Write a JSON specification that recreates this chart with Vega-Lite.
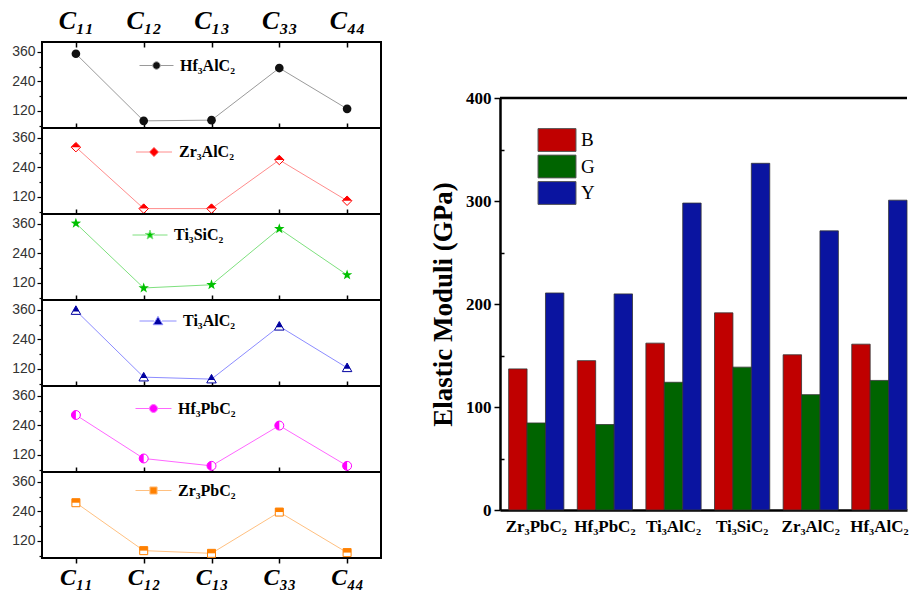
{
  "$schema": "https://vega.github.io/schema/vega-lite/v6.json",
  "background": "white",
  "padding": {"left": 10, "top": 6, "right": 0, "bottom": 0},
  "config": {
    "view": {"stroke": null},
    "axis": {"grid": false, "labelColor": "black", "tickColor": "black", "domainColor": "black"}
  },
  "datasets": {
    "constants": [
      {"material": "Hf₃AlC₂", "constant": "C₁₁", "value": 352},
      {"material": "Hf₃AlC₂", "constant": "C₁₂", "value": 79},
      {"material": "Hf₃AlC₂", "constant": "C₁₃", "value": 82},
      {"material": "Hf₃AlC₂", "constant": "C₃₃", "value": 294},
      {"material": "Hf₃AlC₂", "constant": "C₄₄", "value": 128},
      {"material": "Zr₃AlC₂", "constant": "C₁₁", "value": 322},
      {"material": "Zr₃AlC₂", "constant": "C₁₂", "value": 72},
      {"material": "Zr₃AlC₂", "constant": "C₁₃", "value": 72},
      {"material": "Zr₃AlC₂", "constant": "C₃₃", "value": 270},
      {"material": "Zr₃AlC₂", "constant": "C₄₄", "value": 104},
      {"material": "Ti₃SiC₂", "constant": "C₁₁", "value": 362},
      {"material": "Ti₃SiC₂", "constant": "C₁₂", "value": 99},
      {"material": "Ti₃SiC₂", "constant": "C₁₃", "value": 112},
      {"material": "Ti₃SiC₂", "constant": "C₃₃", "value": 340},
      {"material": "Ti₃SiC₂", "constant": "C₄₄", "value": 152},
      {"material": "Ti₃AlC₂", "constant": "C₁₁", "value": 357},
      {"material": "Ti₃AlC₂", "constant": "C₁₂", "value": 86},
      {"material": "Ti₃AlC₂", "constant": "C₁₃", "value": 78},
      {"material": "Ti₃AlC₂", "constant": "C₃₃", "value": 293},
      {"material": "Ti₃AlC₂", "constant": "C₄₄", "value": 124},
      {"material": "Hf₃PbC₂", "constant": "C₁₁", "value": 282},
      {"material": "Hf₃PbC₂", "constant": "C₁₂", "value": 105},
      {"material": "Hf₃PbC₂", "constant": "C₁₃", "value": 75},
      {"material": "Hf₃PbC₂", "constant": "C₃₃", "value": 239},
      {"material": "Hf₃PbC₂", "constant": "C₄₄", "value": 75},
      {"material": "Zr₃PbC₂", "constant": "C₁₁", "value": 275},
      {"material": "Zr₃PbC₂", "constant": "C₁₂", "value": 80},
      {"material": "Zr₃PbC₂", "constant": "C₁₃", "value": 69},
      {"material": "Zr₃PbC₂", "constant": "C₃₃", "value": 237},
      {"material": "Zr₃PbC₂", "constant": "C₄₄", "value": 72}
    ],
    "moduli": [
      {"material": "Zr₃PbC₂", "modulus": "B", "value": 137},
      {"material": "Zr₃PbC₂", "modulus": "G", "value": 84.5},
      {"material": "Zr₃PbC₂", "modulus": "Y", "value": 210.7},
      {"material": "Hf₃PbC₂", "modulus": "B", "value": 145},
      {"material": "Hf₃PbC₂", "modulus": "G", "value": 83},
      {"material": "Hf₃PbC₂", "modulus": "Y", "value": 209.8},
      {"material": "Ti₃AlC₂", "modulus": "B", "value": 162},
      {"material": "Ti₃AlC₂", "modulus": "G", "value": 124},
      {"material": "Ti₃AlC₂", "modulus": "Y", "value": 298},
      {"material": "Ti₃SiC₂", "modulus": "B", "value": 191.4},
      {"material": "Ti₃SiC₂", "modulus": "G", "value": 138.7},
      {"material": "Ti₃SiC₂", "modulus": "Y", "value": 336.6},
      {"material": "Zr₃AlC₂", "modulus": "B", "value": 150.7},
      {"material": "Zr₃AlC₂", "modulus": "G", "value": 112},
      {"material": "Zr₃AlC₂", "modulus": "Y", "value": 271},
      {"material": "Hf₃AlC₂", "modulus": "B", "value": 161},
      {"material": "Hf₃AlC₂", "modulus": "G", "value": 125.8},
      {"material": "Hf₃AlC₂", "modulus": "Y", "value": 300.8}
    ]
  },
  "spacing": 47,
  "resolve": {"scale": {"color": "independent"}},
  "hconcat": [
    {
      "vconcat": [
        {
          "width": 339, "height": 86,
          "view": {"stroke": "black", "strokeWidth": 2},
          "data": {"name": "constants"},
          "transform": [{"filter": "datum.material === 'Hf₃AlC₂'"}],
          "encoding": {
            "y": {"field": "value", "type": "quantitative", "scale": {"domain": [50, 400], "nice": false, "zero": false},
              "axis": {"values": [60, 120, 180, 240, 300, 360], "labelExpr": "datum.value % 120 === 0 ? datum.label : ''", "title": null, "labelFont": "Liberation Sans", "labelFontSize": 14, "labelColor": "#333", "tickSize": {"condition": {"test": "datum.value % 120 === 0", "value": 5}, "value": 3}, "tickWidth": 1.2, "labelPadding": 2, "domain": false}}
          },
          "layer": [
            {
              "mark": {"type": "line", "strokeWidth": 1},
              "encoding": {
                "x": {"field": "constant", "type": "ordinal", "sort": null, "scale": {"padding": 0.5},
                  "axis": {"orient": "top", "title": null, "labelFont": "Liberation Serif", "labelFontSize": 26, "labelFontWeight": "bold", "labelFontStyle": "italic", "labelAngle": 0, "tickSize": -5, "tickWidth": 1.5, "labelPadding": 14, "domain": false}},
                "color": {"datum": "Hf₃AlC₂", "type": "nominal", "scale": {"domain": ["Hf₃AlC₂"], "range": ["#9a9a9a"]},
                  "legend": {"orient": "none", "legendX": 97, "legendY": 6, "title": null, "padding": 0, "symbolType": "M-1,0H-0.22M0.22,0H1M0.22,0A0.22,0.22 0 1 1 -0.22,0A0.22,0.22 0 1 1 0.22,0Z", "symbolSize": 1156, "labelFont": "Liberation Serif", "labelFontWeight": "bold", "labelFontSize": 16, "labelColor": "black", "labelOffset": 6,
                    "encode": {"symbols": {"update": {"fill": {"value": "#111"}, "fillOpacity": {"value": 1}, "stroke": {"value": "#333"}, "strokeWidth": {"value": 1}}}}}}
              }
            },
            {
              "mark": {"type": "point", "shape": "circle", "filled": true, "color": "#111", "size": 75, "opacity": 1},
              "encoding": {
                "x": {"field": "constant", "type": "ordinal", "sort": null,
                  "axis": {"orient": "bottom", "title": null, "labels": false, "tickSize": -5, "tickWidth": 1.5, "domain": false}}
              }
            }
          ],
          "resolve": {"axis": {"x": "independent"}}
        },
        {
          "width": 339, "height": 86,
          "view": {"stroke": "black", "strokeWidth": 2},
          "data": {"name": "constants"},
          "transform": [{"filter": "datum.material === 'Zr₃AlC₂'"}],
          "encoding": {
            "x": {"field": "constant", "type": "ordinal", "sort": null, "scale": {"padding": 0.5},
              "axis": {"orient": "bottom", "title": null, "labels": false, "tickSize": -5, "tickWidth": 1.5, "domain": false}},
            "y": {"field": "value", "type": "quantitative", "scale": {"domain": [50, 400], "nice": false, "zero": false},
              "axis": {"values": [60, 120, 180, 240, 300, 360], "labelExpr": "datum.value % 120 === 0 ? datum.label : ''", "title": null, "labelFont": "Liberation Sans", "labelFontSize": 14, "labelColor": "#333", "tickSize": {"condition": {"test": "datum.value % 120 === 0", "value": 5}, "value": 3}, "tickWidth": 1.2, "labelPadding": 2, "domain": false}}
          },
          "layer": [
            {
              "mark": {"type": "line", "strokeWidth": 1},
              "encoding": {
                "color": {"datum": "Zr₃AlC₂", "type": "nominal", "scale": {"domain": ["Zr₃AlC₂"], "range": ["#ff8c8c"]},
                  "legend": {"orient": "none", "legendX": 93, "legendY": 5, "title": null, "padding": 0, "symbolType": "M-1,0H-0.26M0.26,0H1M0,-0.26L0.26,0L0,0.26L-0.26,0Z", "symbolSize": 1300, "labelFont": "Liberation Serif", "labelFontWeight": "bold", "labelFontSize": 16, "labelColor": "black", "labelOffset": 6,
                    "encode": {"symbols": {"update": {"fill": {"value": "#ff0000"}, "fillOpacity": {"value": 1}, "stroke": {"value": "#ff6060"}, "strokeWidth": {"value": 1}}}}}}
              }
            },
            {"mark": {"type": "point", "shape": "M0,-1L1,0L0,1L-1,0Z", "filled": true, "fill": "white", "stroke": "#ff0000", "strokeWidth": 1, "size": 90, "opacity": 1}},
            {"mark": {"type": "point", "shape": "M-1,0L0,-1L1,0Z", "filled": true, "color": "#ff0000", "size": 90, "opacity": 1}}
          ]
        },
        {
          "width": 339, "height": 86,
          "view": {"stroke": "black", "strokeWidth": 2},
          "data": {"name": "constants"},
          "transform": [{"filter": "datum.material === 'Ti₃SiC₂'"}],
          "encoding": {
            "x": {"field": "constant", "type": "ordinal", "sort": null, "scale": {"padding": 0.5},
              "axis": {"orient": "bottom", "title": null, "labels": false, "tickSize": -5, "tickWidth": 1.5, "domain": false}},
            "y": {"field": "value", "type": "quantitative", "scale": {"domain": [50, 400], "nice": false, "zero": false},
              "axis": {"values": [60, 120, 180, 240, 300, 360], "labelExpr": "datum.value % 120 === 0 ? datum.label : ''", "title": null, "labelFont": "Liberation Sans", "labelFontSize": 14, "labelColor": "#333", "tickSize": {"condition": {"test": "datum.value % 120 === 0", "value": 5}, "value": 3}, "tickWidth": 1.2, "labelPadding": 2, "domain": false}}
          },
          "layer": [
            {
              "mark": {"type": "line", "strokeWidth": 1},
              "encoding": {
                "color": {"datum": "Ti₃SiC₂", "type": "nominal", "scale": {"domain": ["Ti₃SiC₂"], "range": ["#7ee07e"]},
                  "legend": {"orient": "none", "legendX": 90, "legendY": 3, "title": null, "padding": 0, "symbolType": "M-1,0H-0.2M0.2,0H1M0,-0.28L0.066,-0.091L0.266,-0.087L0.106,0.035L0.165,0.227L0,0.112L-0.165,0.227L-0.106,0.035L-0.266,-0.087L-0.066,-0.091Z", "symbolSize": 1225, "labelFont": "Liberation Serif", "labelFontWeight": "bold", "labelFontSize": 16, "labelColor": "black", "labelOffset": 6,
                    "encode": {"symbols": {"update": {"fill": {"value": "#00c800"}, "fillOpacity": {"value": 1}, "stroke": {"value": "#40d040"}, "strokeWidth": {"value": 1}}}}}}
              }
            },
            {"mark": {"type": "point", "shape": "M0,-1L0.235,-0.324L0.951,-0.309L0.38,0.124L0.588,0.809L0,0.4L-0.588,0.809L-0.38,0.124L-0.951,-0.309L-0.235,-0.324Z", "filled": true, "color": "#00c000", "size": 120, "opacity": 1}}
          ]
        },
        {
          "width": 339, "height": 86,
          "view": {"stroke": "black", "strokeWidth": 2},
          "data": {"name": "constants"},
          "transform": [{"filter": "datum.material === 'Ti₃AlC₂'"}],
          "encoding": {
            "x": {"field": "constant", "type": "ordinal", "sort": null, "scale": {"padding": 0.5},
              "axis": {"orient": "bottom", "title": null, "labels": false, "tickSize": -5, "tickWidth": 1.5, "domain": false}},
            "y": {"field": "value", "type": "quantitative", "scale": {"domain": [50, 400], "nice": false, "zero": false},
              "axis": {"values": [60, 120, 180, 240, 300, 360], "labelExpr": "datum.value % 120 === 0 ? datum.label : ''", "title": null, "labelFont": "Liberation Sans", "labelFontSize": 14, "labelColor": "#333", "tickSize": {"condition": {"test": "datum.value % 120 === 0", "value": 5}, "value": 3}, "tickWidth": 1.2, "labelPadding": 2, "domain": false}}
          },
          "layer": [
            {
              "mark": {"type": "line", "strokeWidth": 1},
              "encoding": {
                "color": {"datum": "Ti₃AlC₂", "type": "nominal", "scale": {"domain": ["Ti₃AlC₂"], "range": ["#8c8cff"]},
                  "legend": {"orient": "none", "legendX": 97, "legendY": 2, "title": null, "padding": 0, "symbolType": "M-1,0H-0.22M0.22,0H1M0,-0.25L0.26,0.2L-0.26,0.2Z", "symbolSize": 1369, "labelFont": "Liberation Serif", "labelFontWeight": "bold", "labelFontSize": 16, "labelColor": "black", "labelOffset": 6,
                    "encode": {"symbols": {"update": {"fill": {"value": "#0000a0"}, "fillOpacity": {"value": 1}, "stroke": {"value": "#5050ff"}, "strokeWidth": {"value": 1}}}}}}
              }
            },
            {"mark": {"type": "point", "shape": "M0,-1L1,0.8L-1,0.8Z", "filled": true, "fill": "white", "stroke": "#0000a0", "strokeWidth": 1, "size": 90, "opacity": 1}},
            {"mark": {"type": "point", "shape": "M0,-1L0.667,0.2L-0.667,0.2Z", "filled": true, "color": "#0000a0", "size": 90, "opacity": 1}}
          ]
        },
        {
          "width": 339, "height": 86,
          "view": {"stroke": "black", "strokeWidth": 2},
          "data": {"name": "constants"},
          "transform": [{"filter": "datum.material === 'Hf₃PbC₂'"}],
          "encoding": {
            "x": {"field": "constant", "type": "ordinal", "sort": null, "scale": {"padding": 0.5},
              "axis": {"orient": "bottom", "title": null, "labels": false, "tickSize": -5, "tickWidth": 1.5, "domain": false}},
            "y": {"field": "value", "type": "quantitative", "scale": {"domain": [50, 400], "nice": false, "zero": false},
              "axis": {"values": [60, 120, 180, 240, 300, 360], "labelExpr": "datum.value % 120 === 0 ? datum.label : ''", "title": null, "labelFont": "Liberation Sans", "labelFontSize": 14, "labelColor": "#333", "tickSize": {"condition": {"test": "datum.value % 120 === 0", "value": 5}, "value": 3}, "tickWidth": 1.2, "labelPadding": 2, "domain": false}}
          },
          "layer": [
            {
              "mark": {"type": "line", "strokeWidth": 1},
              "encoding": {
                "color": {"datum": "Hf₃PbC₂", "type": "nominal", "scale": {"domain": ["Hf₃PbC₂"], "range": ["#ff66ff"]},
                  "legend": {"orient": "none", "legendX": 93, "legendY": 4, "title": null, "padding": 0, "symbolType": "M-1,0H-0.22M0.22,0H1M0.22,0A0.22,0.22 0 1 1 -0.22,0A0.22,0.22 0 1 1 0.22,0Z", "symbolSize": 1296, "labelFont": "Liberation Serif", "labelFontWeight": "bold", "labelFontSize": 16, "labelColor": "black", "labelOffset": 6,
                    "encode": {"symbols": {"update": {"fill": {"value": "#ff00ff"}, "fillOpacity": {"value": 1}, "stroke": {"value": "#ff40ff"}, "strokeWidth": {"value": 1}}}}}}
              }
            },
            {"mark": {"type": "point", "shape": "circle", "filled": true, "fill": "white", "stroke": "#ff00ff", "strokeWidth": 1, "size": 80, "opacity": 1}},
            {"mark": {"type": "point", "shape": "M0,-1A1,1 0 0 0 0,1Z", "filled": true, "color": "#ff00ff", "size": 80, "opacity": 1}}
          ]
        },
        {
          "width": 339, "height": 86,
          "view": {"stroke": "black", "strokeWidth": 2},
          "data": {"name": "constants"},
          "transform": [{"filter": "datum.material === 'Zr₃PbC₂'"}],
          "encoding": {
            "x": {"field": "constant", "type": "ordinal", "sort": null, "scale": {"padding": 0.5},
              "axis": {"orient": "bottom", "title": null, "labelFont": "Liberation Serif", "labelFontSize": 24, "labelFontWeight": "bold", "labelFontStyle": "italic", "labelAngle": 0, "tickSize": 5, "tickWidth": 1.5, "labelPadding": 2, "domain": false}},
            "y": {"field": "value", "type": "quantitative", "scale": {"domain": [50, 400], "nice": false, "zero": false},
              "axis": {"values": [60, 120, 180, 240, 300, 360], "labelExpr": "datum.value % 120 === 0 ? datum.label : ''", "title": null, "labelFont": "Liberation Sans", "labelFontSize": 14, "labelColor": "#333", "tickSize": {"condition": {"test": "datum.value % 120 === 0", "value": 5}, "value": 3}, "tickWidth": 1.2, "labelPadding": 2, "domain": false}}
          },
          "layer": [
            {
              "mark": {"type": "line", "strokeWidth": 1},
              "encoding": {
                "color": {"datum": "Zr₃PbC₂", "type": "nominal", "scale": {"domain": ["Zr₃PbC₂"], "range": ["#ffc080"]},
                  "legend": {"orient": "none", "legendX": 93, "legendY": 0, "title": null, "padding": 0, "symbolType": "M-1,0H-0.2M0.2,0H1M-0.2,-0.2H0.2V0.2H-0.2Z", "symbolSize": 1296, "labelFont": "Liberation Serif", "labelFontWeight": "bold", "labelFontSize": 16, "labelColor": "black", "labelOffset": 6,
                    "encode": {"symbols": {"update": {"fill": {"value": "#ff8000"}, "fillOpacity": {"value": 1}, "stroke": {"value": "#ffa040"}, "strokeWidth": {"value": 1}}}}}}
              }
            },
            {"mark": {"type": "point", "shape": "M-1,-1H1V1H-1Z", "filled": true, "fill": "white", "stroke": "#ff8000", "strokeWidth": 1, "size": 64, "opacity": 1}},
            {"mark": {"type": "point", "shape": "M-1,-1H1V0H-1Z", "filled": true, "color": "#ff8000", "size": 64, "opacity": 1}}
          ]
        }
      ],
      "spacing": 0,
      "bounds": "flush",
      "resolve": {"scale": {"color": "independent"}}
    },
    {
      "vconcat": [
        {
          "width": 407, "height": 56,
          "data": {"values": [{}]},
          "mark": {"type": "point", "opacity": 0},
          "encoding": {}
        },
        {
          "width": 407, "height": 412,
          "data": {"name": "moduli"},
          "layer": [
            {
              "mark": {"type": "bar", "stroke": "#333", "strokeWidth": 0.8},
              "encoding": {
                "x": {"field": "material", "type": "nominal", "sort": null,
                  "scale": {"paddingInner": 0.195, "paddingOuter": 0.063, "align": 1},
                  "axis": {"title": null, "labelFont": "Liberation Serif", "labelFontSize": 17, "labelFontWeight": "bold", "labelAngle": 0, "tickSize": 0, "labelPadding": 8, "domainWidth": 2.5}},
                "xOffset": {"field": "modulus", "type": "nominal", "sort": ["B", "G", "Y"], "scale": {"paddingInner": 0, "paddingOuter": 0}},
                "y": {"field": "value", "type": "quantitative", "scale": {"domain": [0, 400], "nice": false},
                  "axis": {"values": [0, 50, 100, 150, 200, 250, 300, 350, 400], "labelExpr": "datum.value % 100 === 0 ? datum.label : ''", "tickSize": {"condition": {"test": "datum.value % 100 === 0", "value": 6}, "value": -4}, "tickWidth": 1.5, "labelPadding": 3, "labelFont": "Liberation Serif", "labelFontSize": 17, "labelFontWeight": "bold", "domainWidth": 2.5, "title": "Elastic Moduli (GPa)", "titleFont": "Liberation Serif", "titleFontSize": 27, "titleFontWeight": "bold", "titlePadding": 8}},
                "color": {"field": "modulus", "type": "nominal", "scale": {"domain": ["B", "G", "Y"], "range": ["#c00000", "#006400", "#0a14a0"]},
                  "legend": {"orient": "none", "legendX": 45, "legendY": 86, "title": null, "padding": 0, "symbolType": "M-1.65,-0.99H1.65V0.99H-1.65Z", "symbolSize": 529, "symbolStrokeColor": "#555", "symbolStrokeWidth": 1, "labelFont": "Liberation Serif", "labelFontSize": 19, "labelColor": "black", "labelOffset": 12, "rowPadding": -1.5}}
              }
            },
            {
              "data": {"values": [{}]},
              "mark": {"type": "rule", "strokeWidth": 2.5, "color": "black"},
              "encoding": {"y": {"datum": 400, "type": "quantitative"}}
            }
          ]
        }
      ],
      "spacing": 0,
      "bounds": "flush"
    }
  ]
}
